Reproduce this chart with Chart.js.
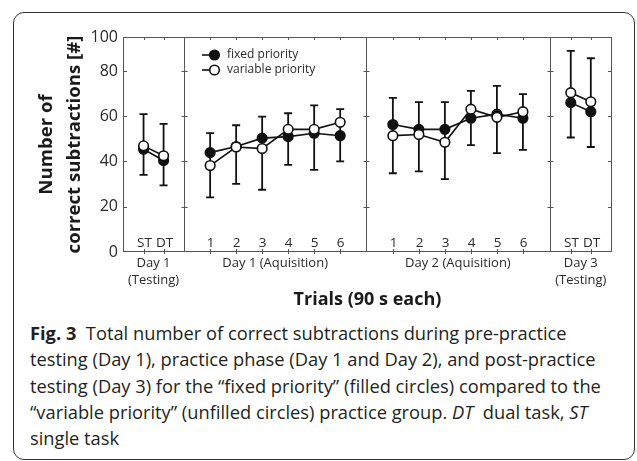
<!DOCTYPE html>
<html>
<head>
<meta charset="utf-8">
<script src="https://cdn.jsdelivr.net/npm/chart.js@4.4.0/dist/chart.umd.min.js"></script>
<style>
  html, body { margin: 0; padding: 0; background: #fff; }
  #frame {
    position: absolute; left: 13px; top: 12px; width: 620px; height: 446px;
    border: 1.3px solid #333; border-radius: 11px;
  }
  #chartBox { position: absolute; left: 0; top: 0; width: 637px; height: 315px; }
  #caption {
    position: absolute; left: 30px; top: 320px;
    font-family: "Open Sans"; font-size: 18.3px; line-height: 26.3px;
    color: #231f20; white-space: nowrap; letter-spacing: 0;
  }
</style>
</head>
<body>
<div id="frame"></div>
<div id="chartBox"><canvas id="c" width="637" height="315"></canvas></div>
<div id="caption">
  <b>Fig. 3</b>&nbsp; Total number of correct subtractions during pre-practice<br>
  testing (Day 1), practice phase (Day 1 and Day 2), and post-practice<br>
  testing (Day 3) for the “fixed priority” (filled circles) compared to the<br>
  “variable priority” (unfilled circles) practice group. <i>DT</i>&nbsp; dual task, <i>ST</i><br>
  single task
</div>
<script>
// categories per group
const groupLabels = [["Day 1", "(Testing)"], "Day 1 (Aquisition)", "Day 2 (Aquisition)", ["Day 3", "(Testing)"]];
const groupItems = [
  ["ST", "DT"],
  ["1", "2", "3", "4", "5", "6"],
  ["1", "2", "3", "4", "5", "6"],
  ["ST", "DT"],
];

// means
const fixedMean = [45.4, 40.4, 43.9, 46.6, 50.3, 51.0, 52.5, 51.4, 56.3, 54.2, 54.2, 59.1, 60.9, 59.1, 66.0, 62.0];
const variableMean = [46.9, 42.5, 38.2, 46.4, 45.7, 54.2, 54.2, 57.3, 51.4, 51.9, 48.5, 63.1, 59.5, 62.0, 70.4, 66.4];
// whisker ends
const errUpper = [60.9, 56.6, 52.5, 56.0, 59.8, 61.3, 64.8, 63.1, 68.1, 66.2, 66.2, 71.2, 73.4, 69.8, 88.9, 85.6];
const errLower = [34.1, 29.4, 24.1, 30.1, 27.5, 38.5, 36.3, 40.0, 34.8, 35.6, 32.2, 47.2, 43.7, 45.1, 50.6, 46.4];

const yTicks = [0, 20, 40, 60, 80];

// layout of the x axis (units: one trial step)
const groupWidth = [2.35, 7.0, 7.05, 2.4];
const groupStep = [0.77, 1, 1, 0.77];

var xPos = [];
var dividers = [];
var groupCenters = [];
var start = 0;
groupItems.forEach((items, g) => {
  var center = start + groupWidth[g] / 2;
  groupCenters.push(center);
  items.forEach((lab, k) => {
    xPos.push(center + (k - (items.length - 1) / 2) * groupStep[g]);
  });
  start += groupWidth[g];
  dividers.push(start);
});
const xMax = start;

function buildSeries(values) {
  var pts = [];
  var idx = 0;
  groupItems.forEach((items, g) => {
    items.forEach(() => {
      pts.push({ x: xPos[idx], y: values[idx] });
      idx++;
    });
    pts.push({ x: dividers[g], y: null });
  });
  return pts;
}

const ink = "#111";
const frameColor = "#555";
const textColor = "#2a2a2a";

const decorPlugin = {
  id: "decor",
  beforeDatasetsDraw(chart) {
    const { ctx, chartArea: a, scales } = chart;
    const xs = scales.x, ys = scales.y;
    ctx.save();
    // frame + dividers
    ctx.strokeStyle = frameColor;
    ctx.lineWidth = 1;
    ctx.strokeRect(a.left + 0.5, a.top + 0.5, a.width - 1, a.height - 1);
    var vlines = [a.left + 0.5];
    dividers.slice(0, -1).forEach((d) => {
      var px = Math.round(xs.getPixelForValue(d)) + 0.5;
      vlines.push(px);
      ctx.beginPath();
      ctx.moveTo(px, a.top);
      ctx.lineTo(px, a.bottom);
      ctx.stroke();
    });
    // y tick marks
    yTicks.slice(1).forEach((v) => {
      var py = Math.round(ys.getPixelForValue(v)) + 0.5;
      ctx.beginPath();
      ctx.moveTo(a.left, py); ctx.lineTo(a.left + 4, py);
      vlines.slice(1).forEach((px) => { ctx.moveTo(px - 3, py); ctx.lineTo(px + 3, py); });
      ctx.moveTo(a.right - 4, py); ctx.lineTo(a.right, py);
      ctx.stroke();
    });
    // x tick marks + category labels
    ctx.fillStyle = textColor;
    ctx.font = '13.5px "Open Sans"';
    ctx.textAlign = "center";
    ctx.textBaseline = "middle";
    var labels = [].concat(...groupItems);
    xPos.forEach((x, i) => {
      var px = Math.round(xs.getPixelForValue(x)) + 0.5;
      ctx.beginPath();
      ctx.moveTo(px, a.top); ctx.lineTo(px, a.top + 3);
      ctx.moveTo(px, a.bottom - 3); ctx.lineTo(px, a.bottom + 2);
      ctx.stroke();
      ctx.fillText(labels[i], px, a.bottom - 9);
    });
    // error bars
    ctx.strokeStyle = ink;
    ctx.lineWidth = 1.8;
    xPos.forEach((x, i) => {
      var px = xs.getPixelForValue(x);
      var top = ys.getPixelForValue(errUpper[i]);
      var bot = ys.getPixelForValue(errLower[i]);
      ctx.beginPath();
      ctx.moveTo(px, top); ctx.lineTo(px, bot);
      ctx.moveTo(px - 4, top); ctx.lineTo(px + 4, top);
      ctx.moveTo(px - 4, bot); ctx.lineTo(px + 4, bot);
      ctx.stroke();
    });
    ctx.restore();
  },
  afterDatasetsDraw(chart) {
    // legend with line through marker
    const { ctx, chartArea: a } = chart;
    ctx.save();
    chart.data.datasets.forEach((ds, i) => {
      var y = a.top + 18 + i * 15;
      var x0 = a.left + 79;
      ctx.strokeStyle = ink;
      ctx.lineWidth = 1.6;
      ctx.beginPath();
      ctx.moveTo(x0, y); ctx.lineTo(x0 + 17, y);
      ctx.stroke();
      ctx.beginPath();
      ctx.arc(x0 + 12.5, y, 4.8, 0, Math.PI * 2);
      ctx.fillStyle = ds.pointBackgroundColor;
      ctx.fill();
      ctx.stroke();
      ctx.fillStyle = textColor;
      ctx.font = '12px "Open Sans"';
      ctx.textBaseline = "middle";
      ctx.fillText(ds.label, x0 + 25, y);
    });
    ctx.restore();
  },
};

new Chart(document.getElementById("c"), {
  type: "line",
  data: {
    datasets: [
      {
        label: "fixed priority",
        data: buildSeries(fixedMean),
        borderColor: ink,
        borderWidth: 1.6,
        pointRadius: 4.8,
        pointBorderWidth: 1.6,
        pointBackgroundColor: ink,
        pointBorderColor: ink,
        spanGaps: false,
        order: 1,
      },
      {
        label: "variable priority",
        data: buildSeries(variableMean),
        borderColor: ink,
        borderWidth: 1.6,
        pointRadius: 4.8,
        pointBorderWidth: 1.6,
        pointBackgroundColor: "#fff",
        pointBorderColor: ink,
        spanGaps: false,
        order: 0,
      },
    ],
  },
  options: {
    responsive: false,
    animation: false,
    layout: { padding: { top: 37, right: 25, left: 0, bottom: 0 } },
    plugins: {
      legend: { display: false },
      tooltip: { enabled: false },
    },
    scales: {
      x: {
        type: "linear",
        min: 0,
        max: xMax,
        grid: { display: false, drawTicks: false },
        border: { display: false },
        afterBuildTicks: (scale) => {
          scale.ticks = groupCenters.map((v) => ({ value: v }));
        },
        afterFit: (scale) => {
          scale.height = 315 - 252;
        },
        ticks: {
          autoSkip: false,
          maxRotation: 0,
          padding: 3,
          color: textColor,
          font: { family: "Open Sans", size: 13, lineHeight: 1.3 },
          callback: (v, i) => groupLabels[i],
        },
        title: {
          display: true,
          text: "Trials (90 s each)",
          color: "#1a1a1a",
          font: { family: "Open Sans", size: 18, weight: "bold", lineHeight: 1.2 },
          padding: { top: 0, bottom: 4 },
        },
      },
      y: {
        min: 0,
        max: 95,
        grid: { display: false, drawTicks: false },
        border: { display: false },
        afterBuildTicks: (scale) => {
          scale.ticks = yTicks.concat([95]).map((v) => ({ value: v }));
        },
        afterFit: (scale) => {
          scale.width = 123;
        },
        ticks: {
          padding: 5,
          color: textColor,
          font: { family: "Open Sans", size: 16 },
          callback: (v) => (v === 95 ? "100" : v),
        },
        title: {
          display: true,
          text: ["Number of", "correct subtractions [#]"],
          color: "#1a1a1a",
          font: { family: "Open Sans", size: 18.6, weight: "bold", lineHeight: 1.5 },
          padding: { top: 33, bottom: 0 },
        },
      },
    },
  },
  plugins: [decorPlugin],
});
</script>
</body>
</html>
